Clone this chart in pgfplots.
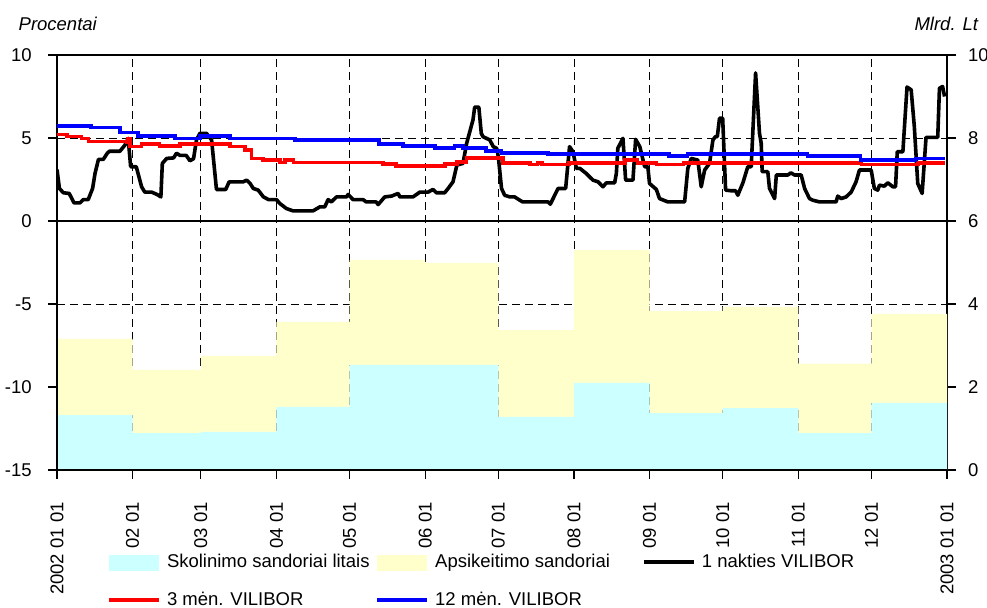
\documentclass[border=0pt]{standalone}
\usepackage{fontspec}
\setmainfont{Liberation Sans}
\usepackage{pgfplots}
\pgfplotsset{compat=1.18}
\definecolor{cyanfill}{HTML}{CCFFFF}
\definecolor{yelfill}{HTML}{FFFFCC}
\newcommand{\chartfont}{\fontsize{9.25pt}{11pt}\selectfont}
\pgfplotsset{
 swatch/.style={legend image code/.code={\fill[##1] (0pt,-4pt) rectangle (25pt,4pt);}},
 linelegend/.style={legend image code/.code={\draw[##1] (0pt,0.5pt) -- (25pt,0.5pt);}},
 base/.style={
   width=445pt, height=207.5pt, scale only axis,
   at={(0pt,0pt)}, anchor=south west,
   xmin=0, xmax=365,
   xtick={0,31,59,90,120,151,181,212,243,273,304,334,365},
   tick align=outside, major tick length=4.5pt,
   axis line style={line width=0.6pt, black},
   every tick/.style={black, line width=0.6pt},
   tick label style={font=\chartfont},
   /pgf/number format/assume math mode=true,
 },
}
\begin{document}
\begin{tikzpicture}[font=\chartfont]
\path[use as bounding box] (-28.5pt,-69pt) rectangle (465pt,235pt);
% right axis: money volumes (Mlrd. Lt), stacked monthly areas
\begin{axis}[base,
  ymin=0, ymax=10, ytick={0,2,...,10},
  axis y line*=right,
  xticklabels={}, xtick style={draw=none},
  grid=major,
  major grid style={black, line width=0.4pt, dash pattern=on 4pt off 2.5pt},
  yticklabel style={anchor=west, inner sep=0pt},
  yticklabel shift=5.8pt,
  ylabel={Mlrd. Lt},
  every axis y label/.style={at={(rel axis cs:1,1)}, anchor=base east, xshift=19pt, yshift=12pt, font=\chartfont\itshape},
  stack plots=y,
]
\addplot[const plot, fill=cyanfill, draw=none] coordinates {
(0,1.32) (31,0.89) (59,0.92) (90,1.52) (120,2.53) (151,2.53) (181,1.28) (212,2.10) (243,1.37) (273,1.49) (304,0.89) (334,1.62) (365,1.62)
} \closedcycle;
\addplot[const plot, fill=yelfill, draw=none] coordinates {
(0,1.84) (31,1.52) (59,1.83) (90,2.05) (120,2.53) (151,2.46) (181,2.09) (212,3.20) (243,2.46) (273,2.44) (304,1.67) (334,2.14) (365,2.14)
} \closedcycle;
\end{axis}
% left axis: interest rates (Procentai)
\begin{axis}[base,
  ymin=-15, ymax=10, ytick={-15,-10,...,10},
  axis y line*=left,
  xtick pos=left,
  xticklabels={2002 01 01, 02 01, 03 01, 04 01, 05 01, 06 01, 07 01, 08 01, 09 01, 10 01, 11 01, 12 01, 2003 01 01},
  xticklabel style={rotate=90, anchor=east, inner sep=0pt},
  xticklabel shift=11.5pt,
  yticklabel style={inner sep=0pt},
  yticklabel shift=8pt,
  extra y ticks={0}, extra y tick labels={},
  extra y tick style={grid=major, major grid style={solid, black, line width=0.75pt}},
  ylabel={Procentai},
  every axis y label/.style={at={(rel axis cs:0,1)}, anchor=base west, xshift=-22.7pt, yshift=12pt, font=\chartfont\itshape},
  legend columns=3, legend cell align=left,
  legend style={at={(axis description cs:0.0562,-0.2024)}, anchor=north west,
    draw=none, fill=none, inner sep=0pt, outer sep=0pt, font=\chartfont,
    row sep=10pt,
    nodes={inner sep=0pt, text height=7pt, text depth=2pt},
    /tikz/column 1/.style={column sep=3pt},
    /tikz/column 2/.style={column sep=2.8pt},
    /tikz/column 3/.style={column sep=3pt},
    /tikz/column 4/.style={column sep=16pt},
    /tikz/column 5/.style={column sep=3pt}},
]
\addlegendimage{swatch, fill=cyanfill, draw=none}
\addlegendentry{Skolinimo sandoriai litais}
\addlegendimage{swatch, fill=yelfill, draw=none}
\addlegendentry{Apsikeitimo sandoriai}
\addlegendimage{linelegend, black, line width=2pt}
\addlegendentry{1 nakties VILIBOR}
\addlegendimage{linelegend, red, line width=2pt}
\addlegendentry{3 mėn. VILIBOR}
\addlegendimage{linelegend, blue, line width=2pt}
\addlegendentry{12 mėn. VILIBOR}
% 1 nakties VILIBOR
\addplot[forget plot, black, line width=1.8pt, line join=round] coordinates {
(0,3.1) (1,1.96) (2.6,1.7) (5,1.66) (7,1.09) (9.4,1.09) (10.8,1.29) (12.8,1.29) (14.6,1.96) (15.6,2.87)
(17,3.71) (19,3.71) (20.6,4.08) (21.5,4.2) (25.8,4.2) (27.9,4.58) (29.2,4.98) (30.2,3.27) (32.5,3.27) (34.7,2.06)
(36,1.74) (38.8,1.74) (41,1.6) (42.6,1.45) (43.2,3.47) (45,3.77) (47.8,3.8) (49,4.08) (50.5,3.95) (53,3.95)
(54.5,3.63) (56,3.75) (57.2,4.88) (58.6,5.28) (61.3,5.28) (63.4,4.88) (65.4,1.9) (69.2,1.9) (70.6,2.36) (76.4,2.36)
(77.8,2.46) (79.2,2.26) (80.5,1.96) (82.5,1.86) (84.6,1.46) (86.7,1.29) (90,1.29) (91.4,1.05) (94.1,0.75) (96.8,0.61)
(105,0.61) (107.8,0.85) (109.8,0.85) (111.2,1.29) (112.5,1.15) (114.6,1.45) (118.7,1.45) (119.4,1.6) (121.4,1.29) (125.5,1.29)
(126.8,1.15) (130.9,1.15) (131.7,0.99) (134.4,1.45) (137.2,1.5) (139.9,1.66) (140.6,1.45) (146,1.45) (148.8,1.74) (152.2,1.74)
(154.2,1.9) (155.6,1.7) (159,1.7) (160.4,1.96) (162.4,2.36) (164,3.37) (166.5,3.47) (168,4.68) (170.6,6.09) (171.3,6.86)
(173,6.86) (174,5.28) (174.7,5.08) (177.5,4.88) (178.9,4.48) (180.3,4.38) (181,3.87) (182.3,1.96) (183.6,1.55) (185.7,1.45)
(187.7,1.45) (189.8,1.25) (191,1.15) (201.4,1.15) (202.3,1.01) (205.5,1.96) (208.6,1.96) (210.2,4.48) (211.6,4.17) (213,3.17)
(214.4,3.17) (217,2.87) (219.8,2.46) (221.9,2.36) (223.9,2.06) (225.3,2.3) (228.7,2.3) (229.4,2.87) (230,4.38) (232.1,4.98)
(233.2,2.46) (236.2,2.46) (237.3,4.92) (239,4.48) (241,3.27) (242.3,3.27) (243,2.26) (245.8,1.9) (247.1,1.35) (250.5,1.15)
(257.4,1.15) (258.7,3.17) (260.1,3.77) (262.8,3.67) (264.2,2.06) (265.6,3.07) (267.6,3.47) (269,4.88) (270,5.08) (270.8,5.08)
(271.7,6.19) (273,6.19) (274.2,1.86) (276.5,1.82) (278.3,1.82) (279.2,1.55) (281.3,2.3) (283.3,3.27) (284.7,3.27) (286.5,8.92)
(288.1,5.28) (288.8,4.68) (289.2,2.97) (291.5,2.97) (292.2,1.96) (294.3,1.35) (295,2.77) (299.7,2.77) (301,2.9) (302.5,2.77)
(305.2,2.77) (306.6,1.96) (308.6,1.35) (310,1.25) (312.7,1.15) (319.5,1.15) (320.2,1.5) (321.6,1.35) (323.6,1.45) (325.7,1.74)
(327.7,2.36) (329.1,3.07) (333.9,3.07) (335.2,1.96) (336.6,1.86) (337.3,2.16) (339.3,2.1) (340.7,2.3) (342.8,2.06) (343.9,2.06)
(344.6,4.17) (346.9,4.17) (348.6,8.07) (350.3,7.9) (351.6,5.68) (353,2.26) (354.8,1.66) (356.4,5.04) (361.2,5.04) (361.9,8.0)
(363.2,8.1) (364,7.5)
};
% 3 men. VILIBOR
\addplot[forget plot, red, line width=1.8pt, const plot] coordinates {
(0,5.22) (4,5.08) (10,4.98) (13,4.78) (28.5,4.72) (29.2,4.98) (30,4.48) (34.7,4.64) (42,4.52) (50.4,4.64)
(71,4.48) (77,4.28) (79.8,3.77) (84.5,3.67) (91.5,3.53) (93.6,3.67) (97,3.53) (133.6,3.43) (139,3.31) (159,3.43)
(164,3.57) (168,3.8) (183,3.51) (194,3.41) (197,3.51) (199,3.41) (210,3.51) (233,3.67) (238,3.51) (245.8,3.41)
(257,3.51) (330,3.41) (353,3.51) (364,3.51)
};
% 12 men. VILIBOR
\addplot[forget plot, blue, line width=1.8pt, const plot] coordinates {
(0,5.73) (14,5.63) (25.8,5.32) (33.3,5.12) (48.4,4.98) (58.6,5.12) (71,4.98) (97.5,4.88) (132,4.64) (142,4.52)
(155,4.38) (163,4.52) (166.5,4.38) (176,4.23) (182.3,4.11) (201.4,4.02) (251,3.91) (258.6,4.02) (307.8,3.91) (329.6,3.67)
(352,3.77) (364,3.77)
};
\end{axis}
\end{tikzpicture}
\end{document}
